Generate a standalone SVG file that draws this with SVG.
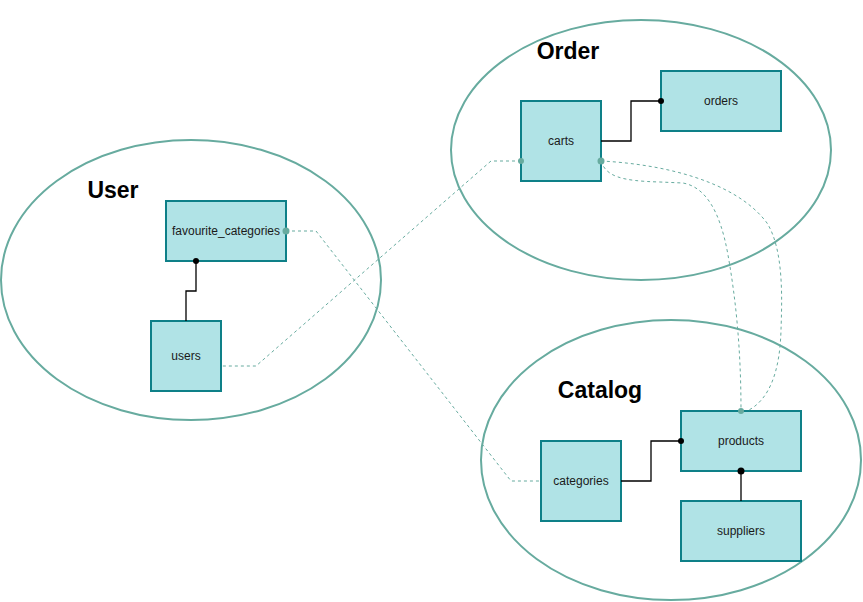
<svg xmlns="http://www.w3.org/2000/svg" width="863" height="602" viewBox="0 0 863 602">
<style>
.grp{fill:none;stroke:#67AB9F;stroke-width:2}
.title{font-family:"Liberation Sans",Arial,sans-serif;font-weight:bold;font-size:23px;fill:#000;text-anchor:middle}
.box{fill:#b0e3e6;stroke:#0e8088;stroke-width:2}
.lbl{font-family:"Liberation Sans",Arial,sans-serif;font-size:12px;fill:#1a1a1a;text-anchor:middle;dominant-baseline:central}
.solid{fill:none;stroke:#000;stroke-width:1.3}
.dash{fill:none;stroke:#67AB9F;stroke-width:1;stroke-dasharray:3 3}
.bdot{fill:#000}
.tdot{fill:#67AB9F}
</style>
<rect width="863" height="602" fill="#fff"/>
<g id="groups">
<ellipse class="grp" cx="641" cy="150" rx="190" ry="130"/>
<ellipse class="grp" cx="191" cy="280" rx="190" ry="140"/>
<ellipse class="grp" cx="671" cy="460" rx="190" ry="140"/>
<text class="title" x="568" y="59">Order</text>
<text class="title" x="113" y="198">User</text>
<text class="title" x="600" y="398">Catalog</text>
</g>
<g id="node-carts"><rect class="box" x="521" y="101" width="80" height="80"/><text class="lbl" x="561" y="141">carts</text></g>
<g id="node-orders"><rect class="box" x="661" y="71" width="120" height="60"/><text class="lbl" x="721" y="101">orders</text></g>
<g id="node-favourite_categories"><rect class="box" x="166" y="201" width="120" height="60"/><text class="lbl" x="226" y="231">favourite_categories</text></g>
<g id="node-users"><rect class="box" x="151" y="321" width="70" height="70"/><text class="lbl" x="186" y="356">users</text></g>
<g id="node-categories"><rect class="box" x="541" y="441" width="80" height="80"/><text class="lbl" x="581" y="481">categories</text></g>
<g id="node-products"><rect class="box" x="681" y="411" width="120" height="60"/><text class="lbl" x="741" y="441">products</text></g>
<g id="node-suppliers"><rect class="box" x="681" y="501" width="120" height="60"/><text class="lbl" x="741" y="531">suppliers</text></g>
<g id="connectors">
<path class="solid" d="M601,141 H631 V101 H661"/>
<circle class="bdot" cx="661" cy="101" r="3"/>
<path class="solid" d="M186,321 V291 H196 V261"/>
<circle class="bdot" cx="196" cy="261" r="3"/>
<path class="solid" d="M621,481 H651 V441 H681"/>
<circle class="bdot" cx="681" cy="441" r="3"/>
<path class="solid" d="M741,501 V471"/>
<circle class="bdot" cx="741" cy="471" r="3.5"/>
<path class="dash" d="M521,161 H491 L256,366 H221"/>
<circle class="tdot" cx="521" cy="161" r="3"/>
<path class="dash" d="M286,231 H316 L511,481 H541"/>
<circle class="tdot" cx="286" cy="231" r="3.5"/>
<path class="dash" d="M601,161 C660,164 735,180 767,223 C784,250 782,300 781,330 C780,370 770,400 747,411"/>
<path class="dash" d="M601,161 C606,176 620,181 660,182 L683,183 C705,187 720,210 728,255 C736,300 741,350 741,411"/>
<circle class="tdot" cx="601" cy="161" r="3.5"/>
<circle class="tdot" cx="741" cy="411" r="3"/>
</g>
</svg>
